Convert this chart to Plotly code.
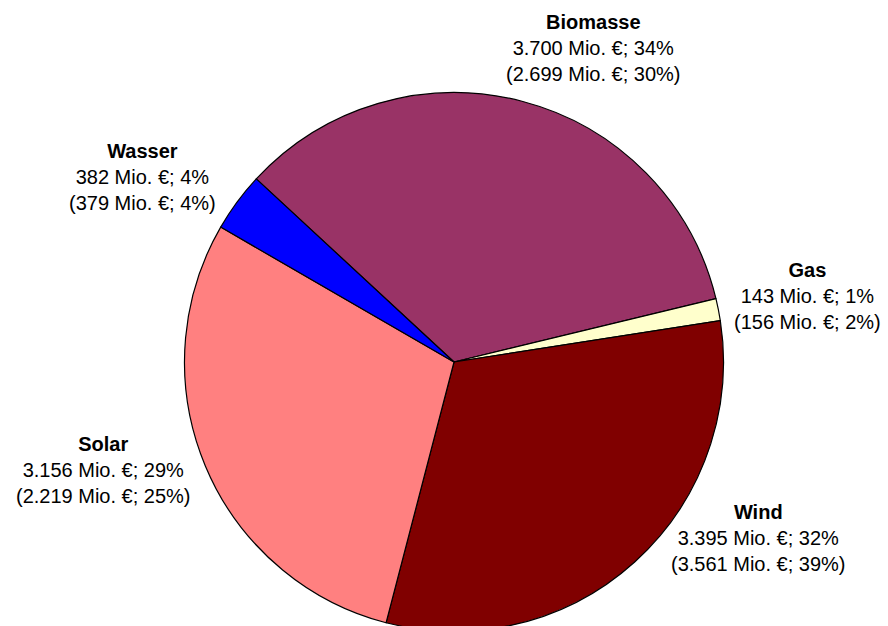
import plotly.graph_objects as go

# ---- data ----
categories = ["Biomasse", "Gas", "Wind", "Solar", "Wasser"]
values = [3700, 143, 3395, 3156, 382]            # Mio. €
shares = [34, 1, 32, 29, 4]                      # %
prev_values = [2699, 156, 3561, 2219, 379]       # Mio. € (Vorjahr)
prev_shares = [30, 2, 39, 25, 4]                 # %
colors = ["#993366", "#FFFFCC", "#800000", "#FF8080", "#0000FF"]

# ---- layout constants ----
W, H = 888, 640
CX, CY, R = 454, 362, 269.5
# label block centres in pixels (x, y)
label_pos = [(593, 48), (807, 296), (758, 538), (103, 470), (142, 177)]


def de(n):
    return f"{n:,}".replace(",", ".")


fig = go.Figure(
    go.Pie(
        labels=categories,
        values=values,
        sort=False,
        direction="clockwise",
        rotation=-47.2,
        marker=dict(colors=colors, line=dict(color="black", width=1.2)),
        textinfo="none",
        hoverinfo="label+value+percent",
        showlegend=False,
        domain=dict(x=[(CX - R) / W, (CX + R) / W], y=[1 - (CY + R) / H, 1 - (CY - R) / H]),
    )
)

for cat, v, s, pv, ps, (px, py) in zip(categories, values, shares, prev_values, prev_shares, label_pos):
    fig.add_annotation(
        x=px / W, y=1 - py / H, xref="paper", yref="paper",
        xanchor="center", yanchor="middle", align="center", showarrow=False,
        text=f"<b>{cat}</b><br>{de(v)} Mio. €; {s}%<br>({de(pv)} Mio. €; {ps}%)",
        font=dict(family="Liberation Sans, Arial, sans-serif", size=20, color="black"),
    )

fig.update_layout(
    width=W, height=H,
    margin=dict(l=0, r=0, t=0, b=0),
    paper_bgcolor="white", plot_bgcolor="white",
)

fig.write_html(
    "out.html",
    config={"displayModeBar": False},
    post_script="document.body.style.margin='0';document.body.style.overflow='hidden';",
)
